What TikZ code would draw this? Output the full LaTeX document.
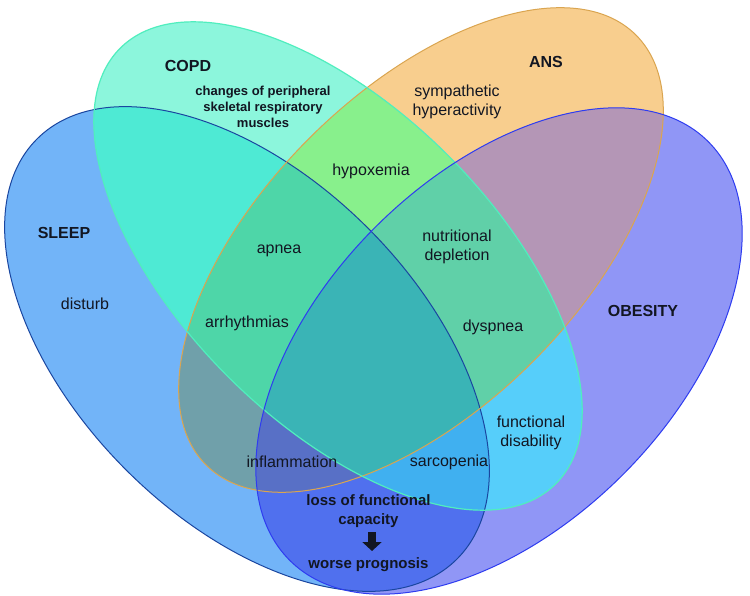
\documentclass[tikz,border=0pt]{standalone}
\usepackage{fontspec}
\setmainfont{Liberation Sans}
\usetikzlibrary{arrows.meta}
\definecolor{cS}{RGB}{114,180,248}
\definecolor{cC}{RGB}{140,246,220}
\definecolor{cA}{RGB}{248,206,142}
\definecolor{cO}{RGB}{144,150,246}
\definecolor{cSC}{RGB}{78,234,212}
\definecolor{cSA}{RGB}{112,160,170}
\definecolor{cSO}{RGB}{80,112,238}
\definecolor{cCA}{RGB}{136,240,140}
\definecolor{cCO}{RGB}{86,206,250}
\definecolor{cAO}{RGB}{180,150,182}
\definecolor{cSCA}{RGB}{78,214,168}
\definecolor{cSCO}{RGB}{64,176,240}
\definecolor{cSAO}{RGB}{88,112,198}
\definecolor{cCAO}{RGB}{96,208,168}
\definecolor{cSCAO}{RGB}{58,180,182}
\definecolor{edS}{RGB}{26,70,160}
\definecolor{edC}{RGB}{80,238,190}
\definecolor{edA}{RGB}{218,165,80}
\definecolor{edO}{RGB}{46,60,240}
\definecolor{ink}{RGB}{18,22,34}
\def\vennS{(247,349) ellipse [x radius=297, y radius=171]}
\def\vennC{(338,266) ellipse [x radius=308, y radius=156]}
\def\vennA{(421,250) ellipse [x radius=304, y radius=158]}
\def\vennO{(499,351) ellipse [x radius=296, y radius=175]}
\begin{document}
\begin{tikzpicture}[x=1pt,y=-1pt,
  eS/.style={rotate around={-45:(247,349)}},
  eC/.style={rotate around={-45:(338,266)}},
  eA/.style={rotate around={45:(421,250)}},
  eO/.style={rotate around={45:(499,351)}},
  lab/.style={text=ink, align=center, inner sep=0pt, font=\fontsize{16}{19}\selectfont},
  setname/.style={lab, font=\bfseries\fontsize{16}{19}\selectfont},
  boldtxt/.style={lab, font=\bfseries\fontsize{15}{19}\selectfont},
  smallbold/.style={lab, font=\bfseries\fontsize{13}{16}\selectfont},
  bigarrow/.style={ink, line width=8pt, -{Triangle[length=9pt, width=19pt]}}
]
\useasboundingbox (0,0) rectangle (750,596);
\fill[white] (0,0) rectangle (750,596);
% single sets
\fill[eS,cS] \vennS;
\fill[eC,cC] \vennC;
\fill[eA,cA] \vennA;
\fill[eO,cO] \vennO;
% pairs
\begin{scope}\clip[eS] \vennS; \fill[eC,cSC] \vennC;\end{scope}
\begin{scope}\clip[eS] \vennS; \fill[eA,cSA] \vennA;\end{scope}
\begin{scope}\clip[eS] \vennS; \fill[eO,cSO] \vennO;\end{scope}
\begin{scope}\clip[eC] \vennC; \fill[eA,cCA] \vennA;\end{scope}
\begin{scope}\clip[eC] \vennC; \fill[eO,cCO] \vennO;\end{scope}
\begin{scope}\clip[eA] \vennA; \fill[eO,cAO] \vennO;\end{scope}
% triples
\begin{scope}\clip[eS] \vennS; \clip[eC] \vennC; \fill[eA,cSCA] \vennA;\end{scope}
\begin{scope}\clip[eS] \vennS; \clip[eC] \vennC; \fill[eO,cSCO] \vennO;\end{scope}
\begin{scope}\clip[eS] \vennS; \clip[eA] \vennA; \fill[eO,cSAO] \vennO;\end{scope}
\begin{scope}\clip[eC] \vennC; \clip[eA] \vennA; \fill[eO,cCAO] \vennO;\end{scope}
% all four
\begin{scope}\clip[eS] \vennS; \clip[eC] \vennC; \clip[eA] \vennA; \fill[eO,cSCAO] \vennO;\end{scope}
% outlines
\draw[eS, edS, line width=1pt] \vennS;
\draw[eA, edA, line width=1pt] \vennA;
\draw[eC, edC, line width=1.2pt] \vennC;
\draw[eO, edO, line width=1pt] \vennO;
% labels
\node[setname] (copd) at (188,66) {COPD};
\node[smallbold] (muscles) at (263,107) {changes of peripheral\\skeletal respiratory\\muscles};
\node[setname] (ans) at (546,62) {ANS};
\node[lab] (symp) at (457,102) {sympathetic\\hyperactivity};
\node[lab] (hypox) at (371,171) {hypoxemia};
\node[setname] (sleep) at (64,233) {SLEEP};
\node[lab] (apnea) at (279,251) {apnea};
\node[lab] (nutri) at (457,247) {nutritional\\depletion};
\node[lab] (disturb) at (85,304) {disturb};
\node[lab] (arrhy) at (247,323) {arrhythmias};
\node[lab] (dysp) at (493,327) {dyspnea};
\node[setname] (obes) at (643,311) {OBESITY};
\node[lab] (funcdis) at (531,433) {functional\\disability};
\node[lab] (inflam) at (292,462) {inflammation};
\node[lab] (sarco) at (449,462) {sarcopenia};
\node[boldtxt] (loss) at (368.5,511.5) {loss of functional\\capacity};
\node[boldtxt] (worse) at (368.5,565) {worse prognosis};
\coordinate (arrowtop) at (372,532);
\coordinate (arrowtip) at (372,551);
\draw[bigarrow] (arrowtop) -- (arrowtip);
\end{tikzpicture}
\end{document}
